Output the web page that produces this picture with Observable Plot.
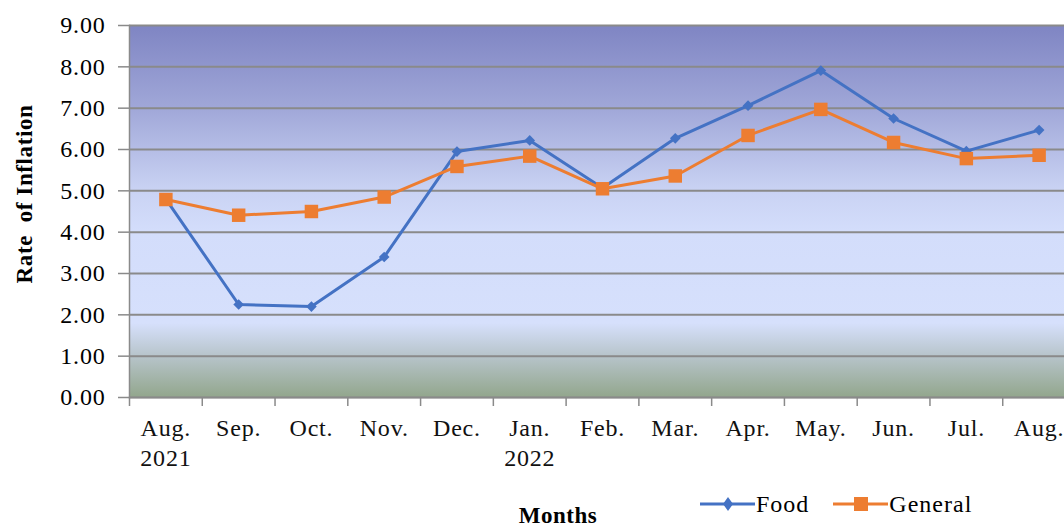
<!DOCTYPE html>
<html>
<head>
<meta charset="utf-8">
<script src="https://cdn.jsdelivr.net/npm/d3@7"></script>
<script src="https://cdn.jsdelivr.net/npm/@observablehq/plot@0.6"></script>
<style>
  html, body { margin: 0; padding: 0; background: #fff; overflow: hidden; }
  #wrap { position: relative; width: 1075px; height: 528px; overflow: hidden; font-family: "Liberation Serif", "Times New Roman", serif; }
  .ytitle { position: absolute; left: 24px; top: 194px; transform: translate(-50%, -50%) rotate(-90deg); font-weight: bold; font-size: 23px; letter-spacing: 0.6px; white-space: pre; line-height: 1; }
  .xtitle { position: absolute; left: 558px; top: 504px; transform: translateX(-50%); font-weight: bold; font-size: 23px; letter-spacing: 0.5px; line-height: 1; }
  .legend { position: absolute; left: 698px; top: 488px; display: flex; align-items: center; font-size: 24px; letter-spacing: 1px; }
  .legend .item { display: flex; align-items: center; margin-right: 22px; }
</style>
</head>
<body>
<div id="wrap"></div>
<script>
const months = ["Aug.\n2021", "Sep.", "Oct.", "Nov.", "Dec.", "Jan.\n2022", "Feb.", "Mar.", "Apr.", "May.", "Jun.", "Jul.", "Aug."];
const food    = [4.80, 2.25, 2.20, 3.40, 5.95, 6.22, 5.07, 6.27, 7.06, 7.91, 6.75, 5.96, 6.47];
const general = [4.79, 4.41, 4.50, 4.85, 5.59, 5.84, 5.05, 5.36, 6.34, 6.97, 6.17, 5.78, 5.86];
const yTicks  = [0, 1, 2, 3, 4, 5, 6, 7, 8, 9];
const seriesNames  = ["Food", "General"];
const seriesColors = ["#4472c4", "#ed7d31"];

const foodData = food.map((v, i) => ({i, v}));
const genData  = general.map((v, i) => ({i, v}));
const bounds = d3.range(months.length + 1).map(k => k - 0.5);

function gradientDefs() {
  const defs = d3.create("svg:defs");
  const g = defs.append("linearGradient").attr("id", "bg").attr("x1", 0).attr("y1", 0).attr("x2", 0).attr("y2", 1);
  [[0, "#7f85c3"], [0.22, "#a0a7d8"], [0.44, "#c9d2f3"], [0.55, "#d3ddfb"], [0.80, "#d6e0fc"], [0.885, "#b8c5cc"], [1, "#92a68c"]]
    .forEach(([o, c]) => g.append("stop").attr("offset", o).attr("stop-color", c));
  return defs.node();
}

const chart = Plot.plot({
  width: 1075,
  height: 528,
  marginLeft: 129,
  marginRight: 0,
  marginTop: 25,
  marginBottom: 131,
  style: {fontFamily: "Liberation Serif, Times New Roman, serif", fontSize: "24px", letterSpacing: "0.8px", color: "#000", background: "transparent", overflow: "visible"},
  x: {type: "linear", domain: [-0.5, months.length - 0.5]},
  y: {domain: [0, 9]},
  marks: [
    gradientDefs,
    Plot.frame({fill: "url(#bg)", stroke: null}),
    Plot.gridY(yTicks, {stroke: "#8a8a8a", strokeOpacity: 1, strokeWidth: 2}),
    Plot.frame({anchor: "left", stroke: "#8a8a8a", strokeWidth: 1.5}),
    Plot.frame({anchor: "bottom", stroke: "#8a8a8a", strokeWidth: 1.5}),
    Plot.axisY(yTicks, {tickFormat: d => d.toFixed(2), tickSize: 11, tickPadding: 13, stroke: "#8a8a8a", strokeWidth: 1.5, fontSize: 24, label: null}),
    Plot.axisX(bounds, {tickSize: 9, tickFormat: () => "", stroke: "#8a8a8a", strokeWidth: 1.5, label: null}),
    Plot.text(months, {x: (d, i) => i, frameAnchor: "bottom", dy: 18, lineAnchor: "top", lineHeight: 1.22, fontSize: 24, fill: "#111"}),
    Plot.line(foodData, {x: "i", y: "v", stroke: seriesColors[0], strokeWidth: 3}),
    Plot.line(genData, {x: "i", y: "v", stroke: seriesColors[1], strokeWidth: 3}),
    Plot.dot(foodData, {x: "i", y: "v", symbol: "diamond2", r: 4.8, fill: seriesColors[0], stroke: null}),
    Plot.dot(genData, {x: "i", y: "v", symbol: "square", r: 7.6, fill: seriesColors[1], stroke: null})
  ]
});

const wrap = document.getElementById("wrap");
wrap.appendChild(chart);

const yt = document.createElement("div");
yt.className = "ytitle";
yt.textContent = "Rate  of Inflation";
wrap.appendChild(yt);

const xt = document.createElement("div");
xt.className = "xtitle";
xt.textContent = "Months";
wrap.appendChild(xt);

const lg = document.createElement("div");
lg.className = "legend";
const symbols = [
  '<path d="M30,9 L35,16 L30,23 L25,16 Z" />',
  '<rect x="23" y="9" width="14" height="14" />'
];
seriesNames.forEach((name, k) => {
  const it = document.createElement("div");
  it.className = "item";
  it.innerHTML = `<svg width="58" height="32" style="display:block"><line x1="2" y1="16" x2="57" y2="16" stroke="${seriesColors[k]}" stroke-width="3"/><g fill="${seriesColors[k]}">${symbols[k]}</g></svg><span>${name}</span>`;
  lg.appendChild(it);
});
wrap.appendChild(lg);
</script>
</body>
</html>
